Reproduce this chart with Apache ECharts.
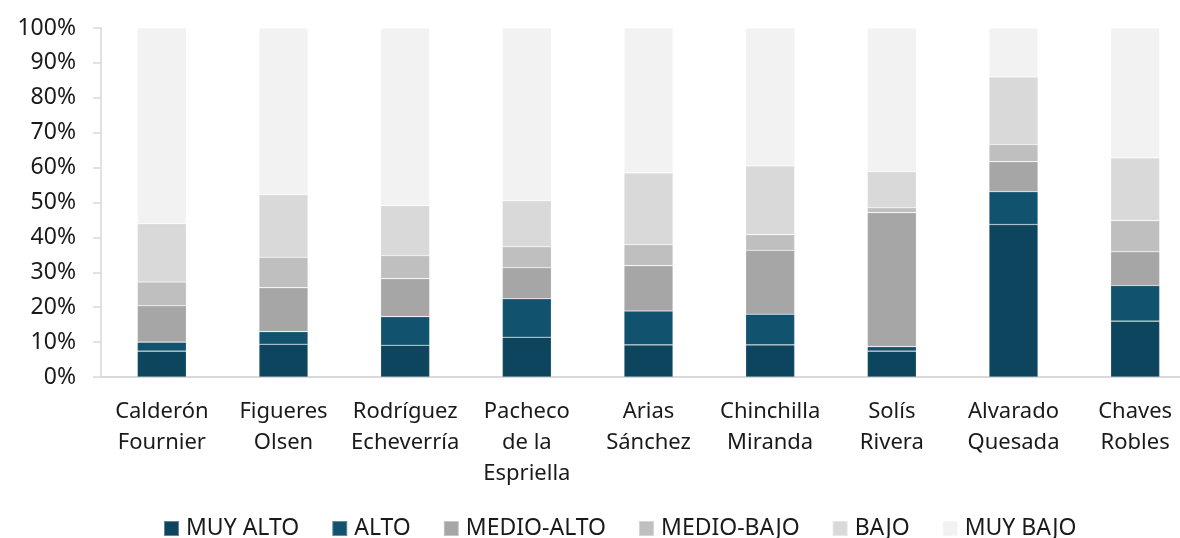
<!DOCTYPE html>
<html>
<head>
<meta charset="utf-8">
<script src="https://cdn.jsdelivr.net/npm/echarts@6/dist/echarts.min.js"></script>
<style>
  html, body { margin: 0; padding: 0; background: #fff; }
  #chart { width: 1180px; height: 538px; }
</style>
</head>
<body>
<div id="chart"></div>
<script>
// Presidential administrations (x axis)
const categories = [
  'Calderón\nFournier', 'Figueres\nOlsen', 'Rodríguez\nEcheverría',
  'Pacheco\nde la\nEspriella', 'Arias\nSánchez', 'Chinchilla\nMiranda',
  'Solís\nRivera', 'Alvarado\nQuesada', 'Chaves\nRobles'
];

// Share of each level per administration (percent)
const muyAlto   = [7.4, 9.4, 9.1, 11.4, 9.2, 9.2, 7.4, 43.7, 16.0];
const alto      = [2.6, 3.6, 8.2, 11.0, 9.7, 8.8, 1.3, 9.4, 10.2];
const medioAlto = [10.4, 12.6, 10.9, 8.9, 13.0, 18.3, 38.4, 8.6, 9.7];
const medioBajo = [6.8, 8.7, 6.6, 6.0, 6.0, 4.5, 1.4, 4.9, 8.9];
const bajo      = [16.7, 17.9, 14.3, 13.2, 20.6, 19.7, 10.3, 19.4, 18.0];
const muyBajo   = [56.1, 47.8, 50.9, 49.5, 41.5, 39.5, 41.2, 14.0, 37.2];

const yTicks = [0, 10, 20, 30, 40, 50, 60, 70, 80, 90, 100];

const seriesDefs = [
  { name: 'MUY ALTO',   data: muyAlto,   color: '#0d445e' },
  { name: 'ALTO',       data: alto,      color: '#11526e' },
  { name: 'MEDIO-ALTO', data: medioAlto, color: '#a6a6a6' },
  { name: 'MEDIO-BAJO', data: medioBajo, color: '#bfbfbf' },
  { name: 'BAJO',       data: bajo,      color: '#d9d9d9' },
  { name: 'MUY BAJO',   data: muyBajo,   color: '#f2f2f2' }
];

const font = '"Noto Sans", "Open Sans", sans-serif';
const textColor = '#1a1a1a';
const chart = echarts.init(document.getElementById('chart'), null, { renderer: 'canvas' });

chart.setOption({
  animation: false,
  textStyle: { fontFamily: font },
  grid: {
    left: 101, top: 28, width: 1095, height: 349,
    containLabel: false,
    outerBoundsMode: 'none'
  },
  legend: {
    top: 512,
    left: 158,
    itemWidth: 15,
    itemHeight: 15,
    itemGap: 32,
    icon: 'rect',
    textStyle: { fontFamily: font, fontSize: 23, color: textColor, padding: [0, 0, 0, 2] },
    data: seriesDefs.map(s => s.name)
  },
  xAxis: {
    type: 'category',
    data: categories,
    axisLine: { show: true, lineStyle: { color: '#d9d9d9', width: 2 } },
    axisTick: { show: false },
    axisLabel: {
      interval: 0,
      margin: 19,
      fontFamily: font,
      fontSize: 22,
      lineHeight: 31,
      color: textColor,
      verticalAlign: 'top'
    }
  },
  yAxis: {
    type: 'value',
    min: 0,
    max: 100,
    interval: 10,
    axisLine: { show: true, lineStyle: { color: '#d9d9d9', width: 1.5 } },
    axisTick: { show: true, inside: false, length: 8, lineStyle: { color: '#d9d9d9', width: 1.5 } },
    splitLine: { show: false },
    axisLabel: {
      margin: 25,
      fontFamily: font,
      fontSize: 23,
      color: textColor,
      formatter: v => (yTicks.includes(v) ? v + '%' : '')
    }
  },
  series: seriesDefs.map(s => ({
    name: s.name,
    type: 'bar',
    stack: 'total',
    barWidth: 49,
    data: s.data,
    itemStyle: { color: s.color, borderColor: 'rgba(255,255,255,0.35)', borderWidth: 0.6 }
  }))
});
</script>
</body>
</html>
